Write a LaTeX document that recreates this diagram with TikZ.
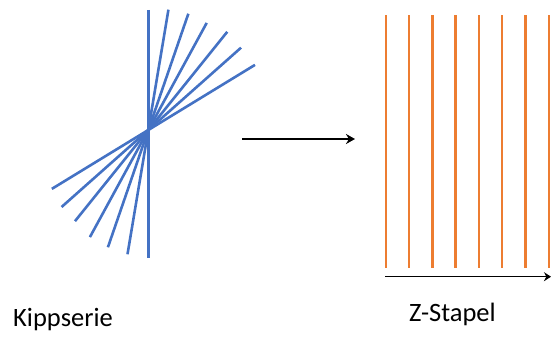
\documentclass[tikz,border=0pt]{standalone}
\usepackage{fontspec}
\setmainfont{Carlito}
\usetikzlibrary{arrows.meta}
\definecolor{tiltblue}{HTML}{4472C4}
\definecolor{stackorange}{HTML}{ED7D31}

\begin{document}
\begin{tikzpicture}[x=1pt,y=-1pt,>={Stealth[length=9pt,width=10pt]},
  every node/.style={font=\fontsize{26.5}{30}\selectfont,inner sep=0pt,anchor=base west},
  tilt/.style={tiltblue,line width=2.6pt},
  slice/.style={stackorange,line width=2.4pt}]
  \useasboundingbox (0,0) rectangle (551,342);
  % tilt series, all lines through one pivot
  \coordinate (pivot) at (148.3,130);
  \foreach \ang/\up/\down in {0/120/128,9.5/122/126,19/123/124,28.6/122/122,
      38.8/126/117,48.4/124/116,58.6/125/113}
    \draw[tilt] ([shift={(\ang-90:\up)}]pivot) -- ([shift={(\ang+90:\down)}]pivot);
  % z stack
  \foreach \i in {0,...,7}
    \draw[slice] (385.7+23.3*\i,15.5) -- (385.7+23.3*\i,268);
  \coordinate (zfrom) at (385,276.7);
  \coordinate (zto) at (551,276.7);
  \draw[->,line width=1.2pt,>={Stealth[length=7pt,width=9pt]}] (zfrom) -- (zto);
  % transition
  \coordinate (tfrom) at (242,139);
  \coordinate (tto) at (355,139);
  \draw[->,line width=1.6pt] (tfrom) -- (tto);
  \node (kipp) at (13,326) {Kippserie};
  \node (zstapel) at (409,321.7) {Z-Stapel};
\end{tikzpicture}
\end{document}
